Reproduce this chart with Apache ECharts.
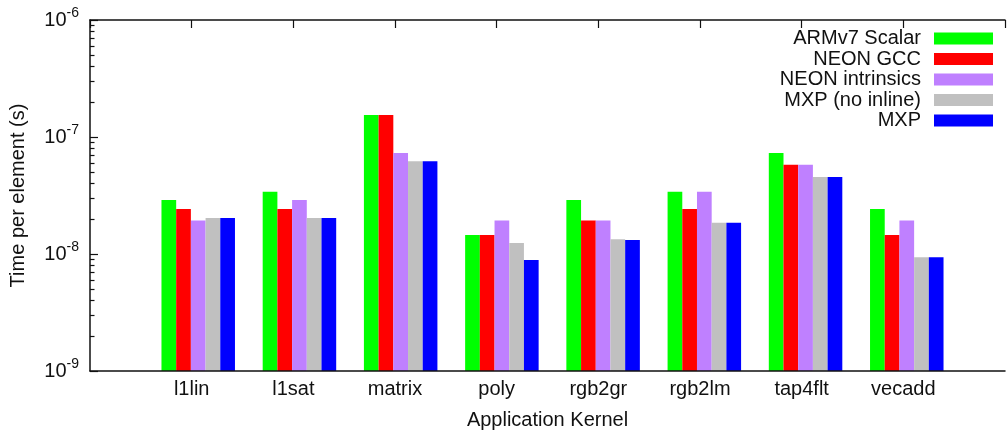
<!DOCTYPE html>
<html><head><meta charset="utf-8">
<script src="https://cdn.jsdelivr.net/npm/echarts@6/dist/echarts.min.js"></script>
<style>html,body{margin:0;padding:0;background:#fff}#c{width:1008px;height:435px}</style>
</head><body><div id="c"></div>
<script>
// ---- data (seconds per element) ----
const categories = ['l1lin', 'l1sat', 'matrix', 'poly', 'rgb2gr', 'rgb2lm', 'tap4flt', 'vecadd'];
const seriesNames = ['ARMv7 Scalar', 'NEON GCC', 'NEON intrinsics', 'MXP (no inline)', 'MXP'];
const armv7Scalar    = [2.9e-8, 3.4e-8, 1.54e-7, 1.45e-8, 2.9e-8, 3.4e-8, 7.3e-8, 2.43e-8];
const neonGcc        = [2.43e-8, 2.43e-8, 1.54e-7, 1.45e-8, 1.93e-8, 2.43e-8, 5.8e-8, 1.45e-8];
const neonIntrinsics = [1.93e-8, 2.9e-8, 7.3e-8, 1.93e-8, 1.93e-8, 3.4e-8, 5.8e-8, 1.93e-8];
const mxpNoInline    = [2.03e-8, 2.03e-8, 6.2e-8, 1.24e-8, 1.34e-8, 1.85e-8, 4.55e-8, 9.4e-9];
const mxp            = [2.03e-8, 2.03e-8, 6.2e-8, 8.9e-9, 1.32e-8, 1.85e-8, 4.55e-8, 9.4e-9];
const yTickValues = [1e-9, 1e-8, 1e-7, 1e-6];
const colors = ['#00ff00', '#ff0000', '#bf80ff', '#c0c0c0', '#0000ff'];

// plotted in nanoseconds so that bars grow from the bottom of the log axis
const NS = 1e9;
const toNs = v => Math.round(v * NS * 1e6) / 1e6;
const allSeries = [armv7Scalar, neonGcc, neonIntrinsics, mxpNoInline, mxp];
const axisCats = [''].concat(categories, ['']);
const yMin = toNs(yTickValues[0]), yMax = toNs(yTickValues[yTickValues.length - 1]);
const majorTicks = yTickValues.map(toNs);
const minorTicks = [];
for (let d = 0; d < majorTicks.length - 1; d++) for (let k = 2; k <= 9; k++) minorTicks.push(majorTicks[d] * k);

const FONT = 'Liberation Sans';
const TXT = '#111';
const LINE = { color: '#111', width: 1.5 };

const chart = echarts.init(document.getElementById('c'), null, { renderer: 'canvas' });
chart.setOption({
  animation: false,
  backgroundColor: '#fff',
  grid: [
    { left: 90, right: -8, top: 20, bottom: 64 },
    { left: 97, right: -15, top: 20, bottom: 64 }
  ],
  legend: {
    orient: 'vertical', right: 15, top: 28.5, padding: 0, align: 'right',
    itemWidth: 59, itemHeight: 12, itemGap: 0.5, icon: 'rect',
    textStyle: { fontSize: 20, fontFamily: FONT, color: TXT, lineHeight: 20, padding: [0, 8, 0, 0] },
    data: seriesNames
  },
  xAxis: [
    { gridIndex: 0, type: 'category', data: axisCats, boundaryGap: false, position: 'bottom', z: 10,
      axisLine: { onZero: false, lineStyle: LINE }, axisTick: { show: false },
      axisLabel: { interval: 0, fontSize: 20, fontFamily: FONT, color: TXT, margin: 8 },
      splitLine: { show: false },
      name: 'Application Kernel', nameLocation: 'middle', nameGap: 39,
      nameTextStyle: { fontSize: 20, fontFamily: FONT, color: TXT } },
    { gridIndex: 0, type: 'category', data: axisCats, boundaryGap: false, position: 'top',
      axisLine: { onZero: false, lineStyle: LINE },
      axisTick: { show: true, inside: true, length: 8, interval: 0, lineStyle: { color: '#111', width: 1.2 } },
      axisLabel: { show: false }, splitLine: { show: false } },
    { gridIndex: 1, type: 'category', data: axisCats, boundaryGap: false, show: false }
  ],
  yAxis: [
    { gridIndex: 0, type: 'log', logBase: 10, min: yMin, max: yMax, position: 'left',
      axisLine: { show: true, lineStyle: LINE },
      axisTick: { show: true, inside: true, length: 8, customValues: majorTicks, lineStyle: { color: '#111', width: 1.2 } },
      axisLabel: { margin: 11, customValues: majorTicks,
        formatter: v => '{b|10}{s|' + (Math.round(Math.log10(v)) - 9) + '}',
        rich: {
          b: { fontSize: 20, lineHeight: 28, fontFamily: FONT, color: TXT },
          s: { fontSize: 14, lineHeight: 14, verticalAlign: 'top', fontFamily: FONT, color: TXT }
        } },
      splitLine: { show: false }, minorSplitLine: { show: false },
      name: 'Time per element (s)', nameLocation: 'middle', nameGap: 62, nameRotate: 90,
      nameTextStyle: { fontSize: 20, fontFamily: FONT, color: TXT } },
    { gridIndex: 0, type: 'log', logBase: 10, min: yMin, max: yMax, position: 'left',
      axisLine: { show: false },
      axisTick: { show: true, inside: true, length: 4.5, customValues: minorTicks, lineStyle: { color: '#111', width: 1.2 } },
      axisLabel: { show: false }, splitLine: { show: false } },
    { gridIndex: 1, type: 'log', logBase: 10, min: yMin, max: yMax, show: false }
  ],
  series: allSeries.map((vals, s) => ({
    name: seriesNames[s], type: 'bar', xAxisIndex: 2, yAxisIndex: 2,
    barWidth: 14.7, barGap: '0%', silent: true,
    itemStyle: { color: colors[s] },
    data: vals.map((v, i) => [categories[i], toNs(v)])
  }))
});
</script></body></html>
